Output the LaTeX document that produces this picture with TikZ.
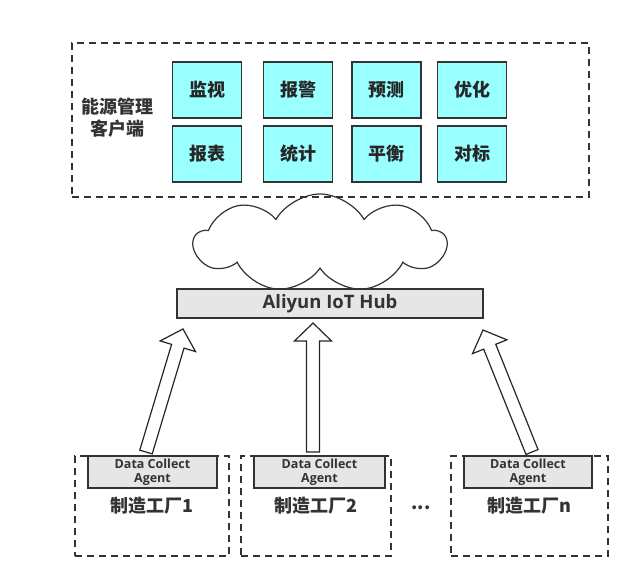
\documentclass[tikz,border=0pt]{standalone}
\usepackage{fontspec}
\setmainfont{Noto Sans CJK SC}
\newfontfamily\latinfont{Open Sans}
\usetikzlibrary{calc,shapes.symbols}
\definecolor{boxcyan}{HTML}{99FFFF}
\definecolor{hubgray}{HTML}{E6E6E6}
\definecolor{inkgray}{HTML}{333333}
\tikzset{
  dashbox/.style={draw=inkgray,line width=1.5pt,dash pattern=on 7pt off 5pt,inner sep=0pt},
  funcbox/.style={draw=inkgray,fill=boxcyan,line width=1.5pt,minimum width=69pt,minimum height=56pt,font=\fontsize{18}{20}\selectfont\bfseries,text=black!85},
  graybox/.style={draw=inkgray,fill=hubgray,line width=1.2pt,inner sep=0pt,text=inkgray},
  arrowline/.style={draw=black!85,fill=white,line width=1.2pt,line join=miter},
  bigtext/.style={font=\fontsize{18}{22}\selectfont\bfseries,text=inkgray},
  hubtext/.style={font=\latinfont\fontsize{18.5}{20}\selectfont\bfseries},
  smalltext/.style={font=\latinfont\fontsize{12.5}{14}\selectfont\bfseries},
}
% block arrow from tail #1 to tip #2
\newcommand{\hubarrow}[2]{%
  \coordinate (#1B) at ($(#2)!18pt!(#1)$);
  \draw[arrowline] ($(#1)!6.5pt!90:(#2)$) -- ($(#1B)!6.5pt!-90:(#1)$) -- ($(#1B)!18.5pt!-90:(#1)$) -- (#2)
    -- ($(#1B)!18.5pt!90:(#1)$) -- ($(#1B)!6.5pt!90:(#1)$) -- ($(#1)!6.5pt!-90:(#2)$) -- cycle;}
\begin{document}
\begin{tikzpicture}[x=1pt,y=-1pt]
  \useasboundingbox (0,0) rectangle (636,585);
  % client side
  \draw (330.5,120) node[dashbox,minimum width=517pt,minimum height=154pt](CLIENT) {};
  \draw (117,118) node[bigtext,align=center](CL) {能源管理\\客户端};
  \draw (207,90) node[funcbox](F1) {监视};
  \draw (298,90) node[funcbox](F2) {报警};
  \draw (386.5,90) node[funcbox](F3) {预测};
  \draw (472,90) node[funcbox](F4) {优化};
  \draw (207,154) node[funcbox](F5) {报表};
  \draw (298,154) node[funcbox](F6) {统计};
  \draw (386.5,154) node[funcbox](F7) {平衡};
  \draw (472,154) node[funcbox](F8) {对标};
  % cloud and hub
  \draw (320,243) node[cloud,draw=inkgray,line width=1.2pt,cloud puffs=9,cloud puff arc=120,aspect=2.7,minimum width=252pt,minimum height=98pt,inner sep=0pt](CLOUD) {};
  \draw (330,303.5) node[graybox,hubtext,minimum width=306pt,minimum height=29pt](HUB) {Aliyun IoT Hub};
  % factories
  \draw (152,506) node[dashbox,bigtext,minimum width=154pt,minimum height=100pt](P1) {制造工厂1};
  \draw (316,506) node[dashbox,bigtext,minimum width=150pt,minimum height=100pt](P2) {制造工厂2};
  \draw (529.5,506) node[dashbox,bigtext,minimum width=157pt,minimum height=100pt](PN) {制造工厂n};
  \draw (421,508) node[bigtext](DOTS) {...};
  \draw (152.5,472) node[graybox,smalltext,minimum width=129pt,minimum height=32pt,align=center](A1) {Data Collect\\Agent};
  \draw (319.5,472) node[graybox,smalltext,minimum width=131pt,minimum height=32pt,align=center](A2) {Data Collect\\Agent};
  \draw (528,472) node[graybox,smalltext,minimum width=128pt,minimum height=32pt,align=center](AN) {Data Collect\\Agent};
  % arrows up to the hub
  \coordinate (T1) at (146,452);
  \coordinate (H1) at (183,329);
  \coordinate (T2) at (313,452);
  \coordinate (H2) at (313,323);
  \coordinate (TN) at (532,452);
  \coordinate (HN) at (483,330);
  \hubarrow{T1}{H1}
  \hubarrow{T2}{H2}
  \hubarrow{TN}{HN}
\end{tikzpicture}
\end{document}
